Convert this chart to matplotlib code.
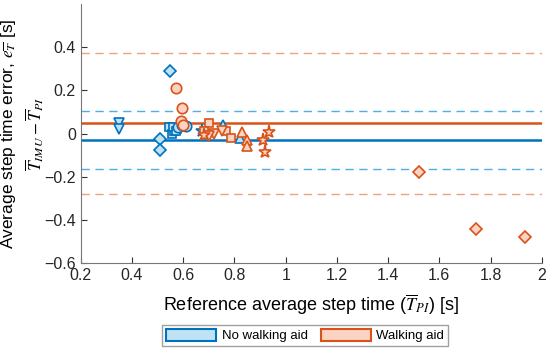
import matplotlib.pyplot as plt
from matplotlib.patches import Patch

plt.rcParams["font.family"] = ["Liberation Sans", "DejaVu Sans"]
plt.rcParams["mathtext.fontset"] = "stix"

# No walking aid (blue) - one list per participant / marker
na_tri_dn_x = [0.348, 0.350]
na_tri_dn_y = [0.05, 0.02]
na_dia_x = [0.55, 0.51, 0.51]
na_dia_y = [0.29, -0.025, -0.075]
na_sq_x = [0.545, 0.555, 0.565, 0.575, 0.56, 0.57]
na_sq_y = [0.03, 0.0, 0.01, 0.02, 0.03, 0.01]
na_circ_x = [0.58, 0.595, 0.61]
na_circ_y = [0.03, 0.04, 0.035]
na_star_x = [0.675]
na_star_y = [0.01]
na_tri_up_x = [0.755, 0.82]
na_tri_up_y = [0.04, -0.02]

# Walking aid (orange)
wa_circ_x = [0.57, 0.595, 0.59, 0.60]
wa_circ_y = [0.21, 0.12, 0.06, 0.04]
wa_sq_x = [0.70, 0.68, 0.765, 0.785]
wa_sq_y = [0.05, 0.01, 0.01, -0.02]
wa_tri_dn_x = [0.72, 0.75, 0.70]
wa_tri_dn_y = [0.0, 0.01, -0.01]
wa_tri_up_x = [0.83, 0.85, 0.85]
wa_tri_up_y = [0.005, -0.03, -0.06]
wa_star_x = [0.68, 0.935, 0.91, 0.92]
wa_star_y = [-0.005, 0.005, -0.03, -0.085]
wa_dia_x = [1.52, 1.745, 1.935]
wa_dia_y = [-0.18, -0.44, -0.48]

# Bland-Altman bias and limits of agreement
na_bias, na_loa = -0.03, [0.105, -0.165]
wa_bias, wa_loa = 0.048, [0.375, -0.28]

blue, blue_fill, blue_dash = "#0072bd", "#bfe3f5", "#4fb0e0"
orange, orange_fill, orange_dash = "#d95319", "#fbd3c3", "#f0a080"

fig = plt.figure(figsize=(5.5, 3.58), dpi=100)
ax = fig.add_axes([0.147, 0.265, 0.838, 0.724])

ax.axhline(na_bias, color=blue, lw=1.8, zorder=1)
ax.axhline(wa_bias, color=orange, lw=1.8, zorder=1)
for v in na_loa:
    ax.axhline(v, color=blue_dash, lw=1.0, ls=(0, (6, 4)), zorder=1)
for v in wa_loa:
    ax.axhline(v, color=orange_dash, lw=1.0, ls=(0, (6, 4)), zorder=1)

def pts(x, y, m, ec, fc, ms=7.5):
    ax.plot(x, y, ls="none", marker=m, ms=ms, mec=ec, mfc=fc, mew=1.2, zorder=3)

pts(na_tri_dn_x, na_tri_dn_y, "v", blue, blue_fill)
pts(na_dia_x, na_dia_y, "D", blue, blue_fill, 6.5)
pts(na_sq_x, na_sq_y, "s", blue, blue_fill, 5.5)
pts(na_circ_x, na_circ_y, "o", blue, blue_fill)
pts(na_star_x, na_star_y, "*", blue, blue_fill, 9.5)
pts(na_tri_up_x, na_tri_up_y, "^", blue, blue_fill)

pts(wa_circ_x, wa_circ_y, "o", orange, orange_fill)
pts(wa_sq_x, wa_sq_y, "s", orange, orange_fill, 5.5)
pts(wa_tri_dn_x, wa_tri_dn_y, "v", orange, orange_fill)
pts(wa_tri_up_x, wa_tri_up_y, "^", orange, orange_fill)
pts(wa_star_x, wa_star_y, "*", orange, orange_fill, 9.5)
pts(wa_dia_x, wa_dia_y, "D", orange, orange_fill, 6.5)

ax.set_xlim(0.2, 2)
ax.set_ylim(-0.6, 0.6)
ax.set_xticks([0.2, 0.4, 0.6, 0.8, 1, 1.2, 1.4, 1.6, 1.8, 2])
ax.set_xticklabels(["0.2", "0.4", "0.6", "0.8", "1", "1.2", "1.4", "1.6", "1.8", "2"])
ax.set_yticks([-0.6, -0.4, -0.2, 0, 0.2, 0.4])
ax.set_yticklabels(["\u22120.6", "\u22120.4", "\u22120.2", "0", "0.2", "0.4"])
for s in ["top", "right"]:
    ax.spines[s].set_visible(False)
for s in ["left", "bottom"]:
    ax.spines[s].set_color("#777777")
ax.tick_params(colors="#333333", labelsize=11.5, direction="in", length=4)
for lab in ax.get_xticklabels() + ax.get_yticklabels():
    lab.set_color("#262626")

ax.set_xlabel(r"Reference average step time ($\overline{T}_{PI}$) [s]", fontsize=13, labelpad=7)
ax.set_ylabel("Average step time error, $e_{\\overline{T}}$ [s]\n"
              r"$\overline{T}_{IMU} - \overline{T}_{PI}$", fontsize=12.5, linespacing=1.3)
ax.yaxis.set_label_coords(-0.076, 0.5)

handles = [Patch(facecolor=blue_fill, edgecolor=blue, lw=1.5, label="No walking aid"),
           Patch(facecolor=orange_fill, edgecolor=orange, lw=1.5, label="Walking aid")]
leg = fig.legend(handles=handles, loc="center", bbox_to_anchor=(0.555, 0.063), ncol=2,
                 fontsize=9.5, fancybox=False, edgecolor="#888888", handlelength=3.8,
                 handleheight=1.1, handletextpad=0.4, columnspacing=1.0, borderpad=0.3)

plt.savefig("out.png", dpi=100)
